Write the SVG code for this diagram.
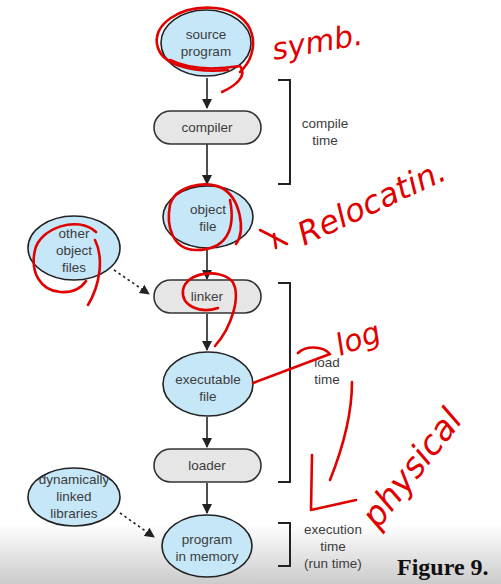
<svg xmlns="http://www.w3.org/2000/svg" width="501" height="584" viewBox="0 0 501 584">
<defs>
<linearGradient id="band" x1="0" y1="0" x2="0" y2="1">
<stop offset="0" stop-color="#ffffff"/>
<stop offset="1" stop-color="#cbcbcb"/>
</linearGradient>
<marker id="ah" viewBox="0 0 10 10" refX="9" refY="5" markerWidth="10" markerHeight="10" markerUnits="userSpaceOnUse" orient="auto">
<path d="M0,0 L10,5 L0,10 z" fill="#222"/>
</marker>
<style>
.ell{fill:#c6e7f8;stroke:#222;stroke-width:1.6}
.box{fill:#e6e6e6;stroke:#333;stroke-width:1.6}
.t{font-family:"Liberation Sans",Arial,sans-serif;font-size:13.5px;fill:#3c3c3c;text-anchor:middle}
.con{stroke:#222;stroke-width:1.6;fill:none}
.dot{stroke:#222;stroke-width:1.6;fill:none;stroke-dasharray:2.5 3}
.br{stroke:#222;stroke-width:2;fill:none}
.red{stroke:#e00000;stroke-width:2.6;fill:none;stroke-linecap:round;stroke-linejoin:round}
.hw{font-family:"DejaVu Sans",sans-serif;font-style:italic;fill:#e00000}
</style>
</defs>
<rect width="501" height="584" fill="#fff"/>
<rect y="524" width="501" height="60" fill="url(#band)"/>

<g id="connectors">
<line class="con" x1="207" y1="78" x2="207" y2="108" marker-end="url(#ah)"/>
<line class="con" x1="207" y1="144" x2="207" y2="184" marker-end="url(#ah)"/>
<line class="con" x1="207" y1="249" x2="207" y2="279" marker-end="url(#ah)"/>
<line class="con" x1="207" y1="314" x2="207" y2="350" marker-end="url(#ah)"/>
<line class="con" x1="207" y1="417" x2="207" y2="447" marker-end="url(#ah)"/>
<line class="con" x1="207" y1="483" x2="207" y2="513" marker-end="url(#ah)"/>
<line class="dot" x1="114" y1="270" x2="149" y2="294" marker-end="url(#ah)"/>
<line class="dot" x1="120" y1="513" x2="154" y2="537" marker-end="url(#ah)"/>
</g>

<g id="source-program">
<ellipse class="ell" cx="206" cy="43" rx="45" ry="33"/>
<text class="t" x="206" y="39">source</text>
<text class="t" x="206" y="56">program</text>
</g>
<g id="compiler">
<rect class="box" x="154" y="111" width="107" height="33" rx="16.5"/>
<text class="t" x="207" y="132">compiler</text>
</g>
<g id="object-file">
<ellipse class="ell" cx="208" cy="217" rx="45" ry="31"/>
<text class="t" x="208" y="214">object</text>
<text class="t" x="208" y="231">file</text>
</g>
<g id="other-object-files">
<ellipse class="ell" cx="74" cy="248" rx="46" ry="32"/>
<text class="t" x="74" y="238">other</text>
<text class="t" x="74" y="255">object</text>
<text class="t" x="74" y="272">files</text>
</g>
<g id="linker">
<rect class="box" x="154" y="280" width="107" height="33" rx="16.5"/>
<text class="t" x="207" y="301">linker</text>
</g>
<g id="executable-file">
<ellipse class="ell" cx="208" cy="384" rx="45" ry="32"/>
<text class="t" x="208" y="384">executable</text>
<text class="t" x="208" y="401">file</text>
</g>
<g id="loader">
<rect class="box" x="154" y="449" width="107" height="33" rx="16.5"/>
<text class="t" x="207" y="470">loader</text>
</g>
<g id="program-in-memory">
<ellipse class="ell" cx="207" cy="546" rx="45" ry="31"/>
<text class="t" x="207" y="544">program</text>
<text class="t" x="207" y="561">in memory</text>
</g>
<g id="dynamically-linked-libraries">
<ellipse class="ell" cx="74" cy="497" rx="46" ry="29"/>
<text class="t" x="74" y="484">dynamically</text>
<text class="t" x="74" y="501">linked</text>
<text class="t" x="74" y="518">libraries</text>
</g>

<g id="brackets">
<path class="br" d="M278,80 H290 V184 H278"/>
<text class="t" x="325" y="128">compile</text>
<text class="t" x="325" y="145">time</text>
<path class="br" d="M278,283 H290 V482 H278"/>
<text class="t" x="327" y="367">load</text>
<text class="t" x="327" y="384">time</text>
<path class="br" d="M278,523 H290 V566 H278"/>
<text class="t" x="333" y="534">execution</text>
<text class="t" x="333" y="551">time</text>
<text class="t" x="333" y="568">(run time)</text>
</g>

<text x="397" y="575" font-family="'Liberation Serif','Times New Roman',serif" font-weight="bold" font-size="24" fill="#111">Figure 9.</text>

<g id="annotations">
<path class="red" d="M240,72 C262,52 258,12 215,8 C180,5 150,25 158,48 C164,66 195,73 228,70"/>
<path class="red" d="M170,60 C190,70 215,70 240,66 C248,76 235,86 222,92"/>
<path class="red" d="M230,200 C236,230 226,250 196,250 C172,250 166,225 170,205 C175,186 205,180 222,188 C240,198 246,230 236,244"/>
<path class="red" d="M260,230 C270,235 279,240 287,244 M274,234 L276,248"/>
<path class="red" d="M96,232 C78,215 40,228 35,250 C30,272 40,290 60,292 C74,293 82,287 86,281 M95,240 C104,258 100,285 88,305"/>
<path class="red" d="M218,308 C200,314 181,306 183,290 C186,272 220,268 232,281 C242,296 231,328 215,346"/>
<path class="red" d="M253,383 L330,354 C322,345 305,346 298,353"/>
<path class="red" d="M352,382 C352,420 340,455 330,480"/>
<path class="red" d="M312,455 L311,510 L356,500"/>
<text class="hw" x="274" y="60" font-size="30" transform="rotate(-10 274 60)">symb.</text>
<text class="hw" x="304" y="246" font-size="32" transform="rotate(-25 304 246)">Relocatin.</text>
<text class="hw" x="340" y="356" font-size="30" transform="rotate(-20 340 356)">log</text>
<text class="hw" x="378" y="530" font-size="34" transform="rotate(-52 378 530)">physical</text>
</g>
</svg>
